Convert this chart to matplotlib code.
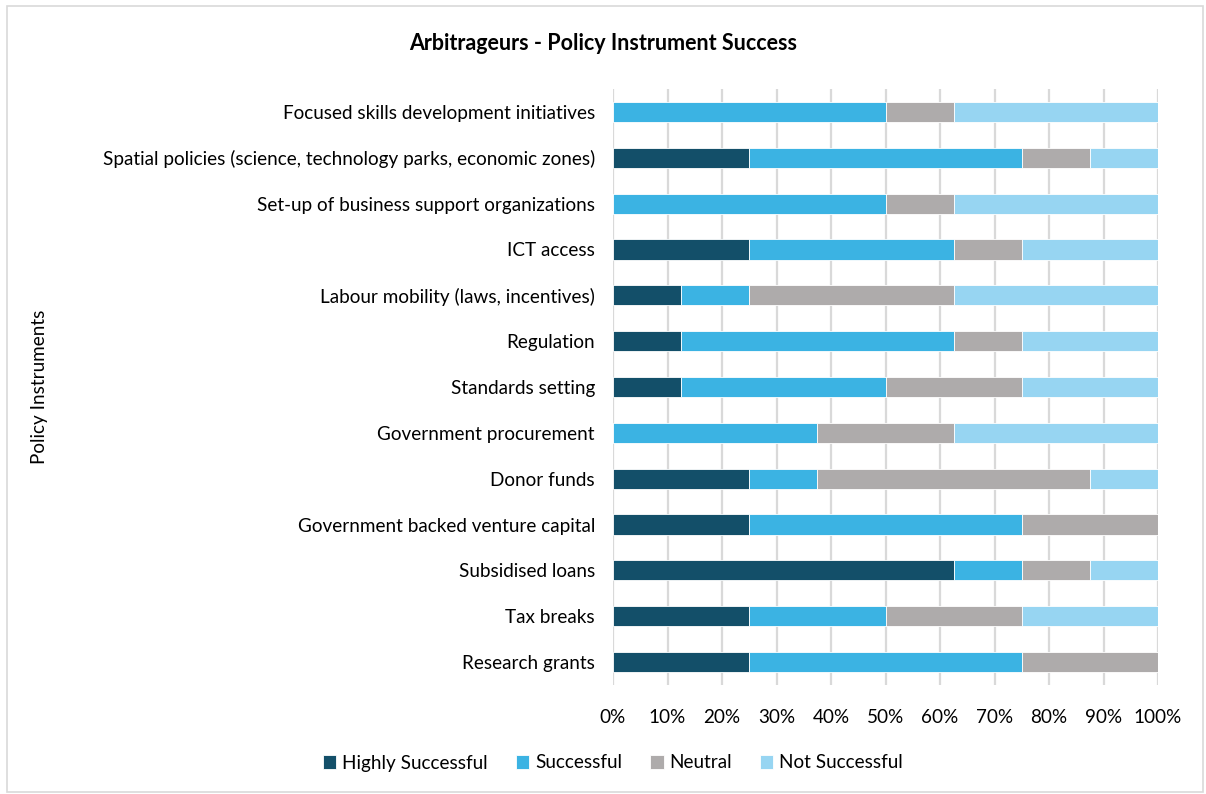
import matplotlib.pyplot as plt
import numpy as np
from matplotlib.patches import Rectangle
from matplotlib.ticker import PercentFormatter

plt.rcParams['font.family'] = ['Lato', 'DejaVu Sans']

instruments = [
    "Research grants",
    "Tax breaks",
    "Subsidised loans",
    "Government backed venture capital",
    "Donor funds",
    "Government procurement",
    "Standards setting",
    "Regulation",
    "Labour mobility (laws, incentives)",
    "ICT access",
    "Set-up of business support organizations",
    "Spatial policies (science, technology parks, economic zones)",
    "Focused skills development initiatives",
]

highly_successful = [25, 25, 62.5, 25, 25, 0, 12.5, 12.5, 12.5, 25, 0, 25, 0]
successful = [50, 25, 12.5, 50, 12.5, 37.5, 37.5, 50, 12.5, 37.5, 50, 50, 50]
neutral = [25, 25, 12.5, 25, 50, 25, 25, 12.5, 37.5, 12.5, 12.5, 12.5, 12.5]
not_successful = [0, 25, 12.5, 0, 12.5, 37.5, 25, 25, 37.5, 25, 37.5, 12.5, 37.5]

series = [
    ("Highly Successful", highly_successful, "#134f69"),
    ("Successful", successful, "#3bb3e3"),
    ("Neutral", neutral, "#aeabab"),
    ("Not Successful", not_successful, "#97d5f2"),
]

fig = plt.figure(figsize=(12.06, 7.94), dpi=100)
ax = fig.add_axes([613 / 1206, 1 - 685 / 794, 545 / 1206, 596 / 794])

y = np.arange(len(instruments))
left = np.zeros(len(instruments))
for name, vals, color in series:
    vals = np.array(vals, dtype=float)
    ax.barh(y, vals, left=left, height=0.44, color=color, label=name,
            edgecolor="white", linewidth=0.6, zorder=3)
    left += vals

ax.set_xlim(0, 100)
ax.set_ylim(-0.5, len(instruments) - 0.5)
ax.set_xticks(np.arange(0, 101, 10))
ax.xaxis.set_major_formatter(PercentFormatter(decimals=0))
ax.set_yticks(y)
ax.set_yticklabels(instruments, fontsize=13.6)
ax.tick_params(axis="x", labelsize=13.6, length=0, pad=17)
ax.tick_params(axis="y", length=0, pad=13)
ax.grid(axis="x", color="#d9d9d9", linewidth=1.6, zorder=0)
ax.set_axisbelow(True)
for s in ax.spines.values():
    s.set_visible(False)

ax.set_ylabel("Policy Instruments", fontsize=13.6)
ax.yaxis.set_label_coords(-565 / 545, 0.5)

fig.text(0.5, 1 - 43 / 794, "Arbitrageurs - Policy Instrument Success",
         ha="center", va="center", fontsize=15.5, fontweight="bold")

fig.legend(loc="center", bbox_to_anchor=(613 / 1206, 1 - 763 / 794), ncol=4,
           frameon=False, fontsize=13.6, handlelength=0.7, handleheight=0.7,
           handletextpad=0.3, columnspacing=1.5)

fig.patches.append(Rectangle((7 / 1206, 2 / 794), 1196 / 1206, 786 / 794,
                             transform=fig.transFigure, fill=False,
                             edgecolor="#d9d9d9", linewidth=1.2))

fig.savefig("out.png", dpi=100)
